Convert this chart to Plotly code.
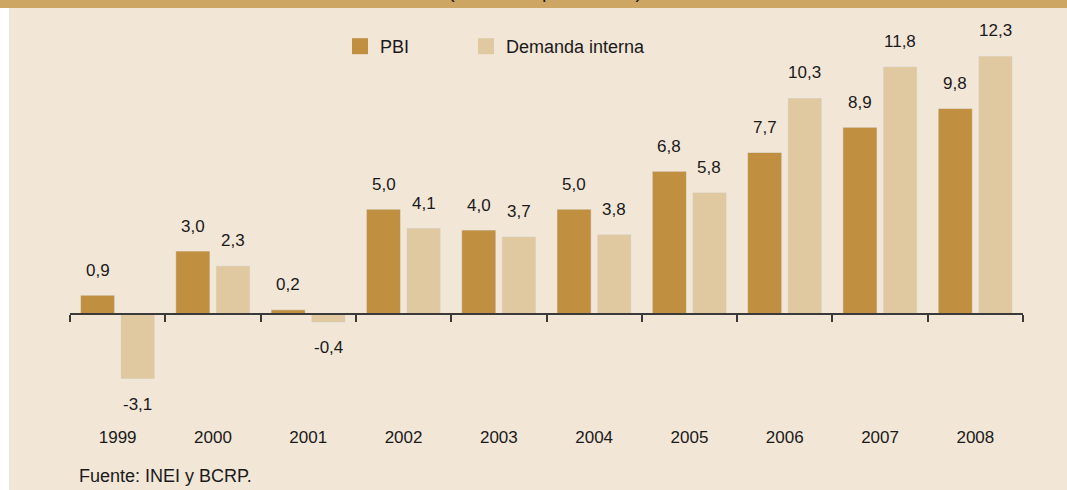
import plotly.graph_objects as go

# Crecimiento del PBI y de la demanda interna (var. % real)
years = ['1999', '2000', '2001', '2002', '2003', '2004', '2005', '2006', '2007', '2008']
pbi = [0.9, 3.0, 0.2, 5.0, 4.0, 5.0, 6.8, 7.7, 8.9, 9.8]
demanda = [-3.1, 2.3, -0.4, 4.1, 3.7, 3.8, 5.8, 10.3, 11.8, 12.3]

W, H = 1067, 490
BG = '#f2e6d7'
PBI_COLOR = '#c18f40'
DEM_COLOR = '#e0c8a0'
STRIP = '#cda664'
FONT = 'Arial, Liberation Sans, sans-serif'

# plot area in pixels
left, right, top, bottom = 70, 1023, 40, 424
y_range = [-5.24, 13.06]
zero_pos = -y_range[0] / (y_range[1] - y_range[0])


def px_x(p):
    return (p - left) / (right - left)


def px_y(p):
    return (bottom - p) / (bottom - top)


fig = go.Figure()
fig.add_trace(go.Bar(x=years, y=pbi, name='PBI', marker_color=PBI_COLOR, showlegend=False))
fig.add_trace(go.Bar(x=years, y=demanda, name='Demanda interna', marker_color=DEM_COLOR, showlegend=False))
# legend entries with larger square swatches, one legend each
for name, color, leg in [('PBI', PBI_COLOR, 'legend'), ('Demanda interna', DEM_COLOR, 'legend2')]:
    fig.add_trace(go.Scatter(x=[None], y=[None], mode='markers', name=name, legend=leg,
                             marker=dict(symbol='square', size=20, color=color)))

# value labels
annotations = []
for vals, shift in [(pbi, -20), (demanda, 20)]:
    for i, v in enumerate(vals):
        annotations.append(dict(
            x=i, y=v, xref='x', yref='y', xshift=shift,
            yshift=25 if v >= 0 else -25,
            text=f'{v:.1f}'.replace('.', ','), showarrow=False,
            font=dict(size=17, color='#1a1a1a', family=FONT)))

annotations.append(dict(
    x=px_x(77), y=px_y(476), xref='paper', yref='paper', xanchor='left', yanchor='middle',
    text='Fuente: INEI y BCRP.', showarrow=False,
    font=dict(size=18, color='#1a1a1a', family=FONT)))

annotations.append(dict(
    x=px_x(545), y=px_y(4), xref='paper', yref='paper', xanchor='center', yanchor='bottom',
    text='(Variación porcentual)', showarrow=False,
    font=dict(size=20, color='#1a1a1a', family=FONT)))

shapes = [
    # white margin on the left
    dict(type='rect', xref='paper', yref='paper', x0=px_x(-5), x1=px_x(9), y0=px_y(H + 5), y1=px_y(-5),
         fillcolor='white', line_width=0, layer='below'),
    # title strip
    dict(type='rect', xref='paper', yref='paper', x0=px_x(-5), x1=px_x(W + 5), y0=px_y(8), y1=px_y(-5),
         fillcolor=STRIP, line_width=0, layer='below'),
]

legend_style = dict(orientation='h', xanchor='left', yanchor='top', bgcolor='rgba(0,0,0,0)',
                    font=dict(size=18), itemwidth=30, itemsizing='trace')

fig.update_layout(
    width=W, height=H,
    margin=dict(l=left, r=W - right, t=top, b=H - bottom, pad=0),
    paper_bgcolor=BG, plot_bgcolor=BG,
    barmode='group', bargap=0.157, bargroupgap=0.15,
    font=dict(family=FONT, size=17, color='#1a1a1a'),
    showlegend=True,
    legend=dict(legend_style, x=px_x(340), y=px_y(28)),
    legend2=dict(legend_style, x=px_x(466), y=px_y(28)),
    xaxis=dict(type='category', anchor='free', position=zero_pos,
               showline=True, linecolor='#3a3a3a', linewidth=2,
               ticks='outside', tickson='boundaries', ticklen=7, tickwidth=2, tickcolor='#3a3a3a',
               ticklabelstandoff=108, tickfont=dict(size=17),
               showgrid=False, zeroline=False),
    yaxis=dict(range=y_range, visible=False, showgrid=False, zeroline=False),
    annotations=annotations,
    shapes=shapes,
)

fig.write_html('out.html', config={'displayModeBar': False},
               post_script="document.body.style.margin='0';")
